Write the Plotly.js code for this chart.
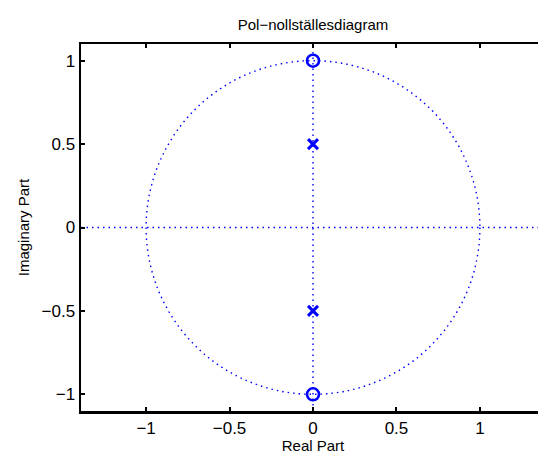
<!DOCTYPE html>
<html>
<head>
<meta charset="utf-8">
<script src="https://cdn.plot.ly/plotly-3.0.1.min.js"></script>
<style>
html,body{margin:0;padding:0;overflow:hidden;background:#fff;}
#chart{width:556px;height:454px;}
</style>
</head>
<body>
<div id="chart"></div>
<script>
// Zeros and poles
const zerosRe = [0, 0];
const zerosIm = [1, -1];
const polesRe = [0, 0];
const polesIm = [0.5, -0.5];
const xTicks = [-1, -0.5, 0, 0.5, 1];
const xTickText = ['\u22121', '\u22120.5', '0', '0.5', '1'];
const yTicks = [-1, -0.5, 0, 0.5, 1];
const yTickText = ['\u22121', '\u22120.5', '0', '0.5', '1'];
const xRange = [-1.39, 1.39];
const yRange = [-1.1, 1.1];

const blue = 'rgb(0,0,255)';
const dotLine = {color: blue, width: 1.4, dash: '1.5px,4px'};

const traces = [
  {x: xRange, y: [0, 0], mode: 'lines', type: 'scatter', line: dotLine, hoverinfo: 'skip'},
  {x: [0, 0], y: yRange, mode: 'lines', type: 'scatter', line: dotLine, hoverinfo: 'skip'},
  {x: zerosRe, y: zerosIm, mode: 'markers', type: 'scatter',
   marker: {symbol: 'circle-open', size: 12, color: blue, line: {width: 2.6, color: blue}}},
  {x: polesRe, y: polesIm, mode: 'markers', type: 'scatter',
   marker: {symbol: 'x-thin-open', size: 10, color: blue, line: {width: 3, color: blue}}}
];

const layout = {
  width: 556, height: 454,
  margin: {l: 81, r: 11, t: 44, b: 43},
  paper_bgcolor: '#fff', plot_bgcolor: '#fff',
  showlegend: false,
  font: {family: 'Liberation Sans, Arial, sans-serif', color: '#000', size: 18},
  title: {text: 'Pol\u2212nollställesdiagram', x: 0.5, xref: 'paper', y: 0.946, yanchor: 'middle',
          font: {size: 15, color: '#000'}},
  xaxis: {range: xRange, tickvals: xTicks, ticktext: xTickText, ticks: 'inside', ticklen: 4,
          tickwidth: 2, tickcolor: '#000', showline: true, linewidth: 2.5, linecolor: '#000',
          mirror: 'ticks', showgrid: false, zeroline: false, tickfont: {size: 17},
          title: {text: 'Real Part', font: {size: 15}, standoff: 1}},
  yaxis: {range: yRange, tickvals: yTicks, ticktext: yTickText, ticks: 'inside', ticklen: 4,
          tickwidth: 2, tickcolor: '#000', showline: true, linewidth: 2.5, linecolor: '#000',
          mirror: 'ticks', showgrid: false, zeroline: false, tickfont: {size: 17},
          title: {text: 'Imaginary Part', font: {size: 15}, standoff: 9}},
  shapes: [
    {type: 'circle', xref: 'x', yref: 'y', x0: -1, x1: 1, y0: -1, y1: 1, line: dotLine, layer: 'below'}
  ]
};

Plotly.newPlot('chart', traces, layout, {displayModeBar: false, staticPlot: true});
</script>
</body>
</html>
